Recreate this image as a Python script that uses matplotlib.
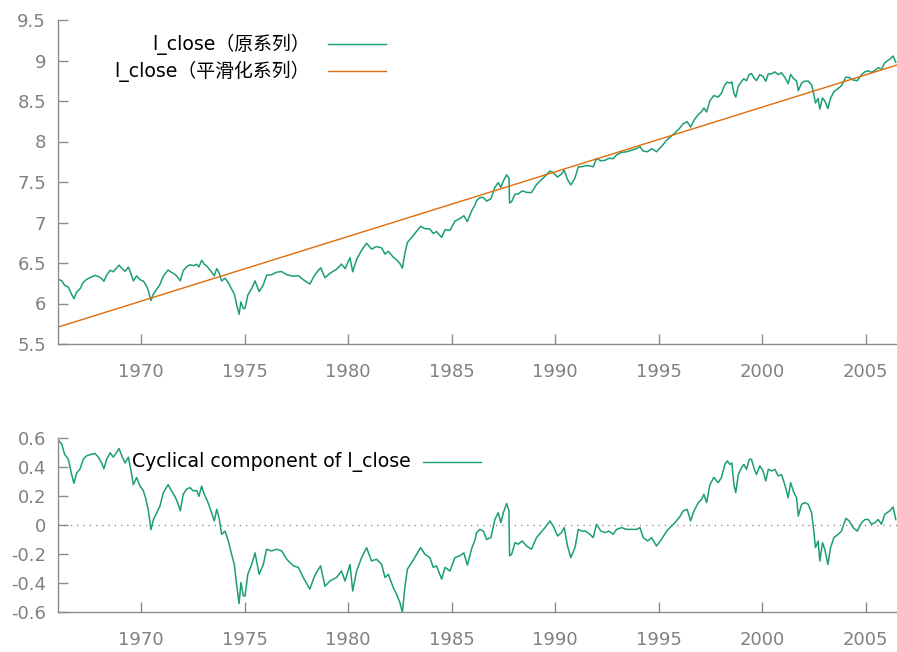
import numpy as np
import matplotlib
matplotlib.use('Agg')
from matplotlib import pyplot as plt
from matplotlib.lines import Line2D

plt.rcParams['font.family'] = ['DejaVu Sans', 'Noto Sans CJK SC']
plt.rcParams['axes.unicode_minus'] = False

# dates (decimal years) and cyclical component
dates = [
    1966.00, 1966.16, 1966.30, 1966.48, 1966.64, 1966.75, 1966.88, 1967.05, 1967.20, 1967.37,
    1967.60, 1967.77, 1967.93, 1968.09, 1968.20, 1968.33, 1968.50, 1968.65, 1968.80, 1968.93,
    1969.06, 1969.22, 1969.38, 1969.51, 1969.62, 1969.78, 1969.94, 1970.10, 1970.23, 1970.35,
    1970.47, 1970.59, 1970.75, 1970.90, 1971.07, 1971.30, 1971.47, 1971.63, 1971.76, 1971.89,
    1972.03, 1972.20, 1972.36, 1972.52, 1972.68, 1972.79, 1972.92, 1973.05, 1973.20, 1973.37,
    1973.53, 1973.65, 1973.76, 1973.89, 1974.05, 1974.21, 1974.37, 1974.50, 1974.61, 1974.73,
    1974.82, 1974.94, 1975.02, 1975.15, 1975.34, 1975.50, 1975.70, 1975.90, 1976.06, 1976.30,
    1976.54, 1976.79, 1977.03, 1977.35, 1977.59, 1977.83, 1978.15, 1978.35, 1978.51, 1978.67,
    1978.88, 1979.12, 1979.44, 1979.68, 1979.85, 1980.09, 1980.22, 1980.41, 1980.65, 1980.89,
    1981.13, 1981.37, 1981.62, 1981.78, 1981.94, 1982.18, 1982.34, 1982.50, 1982.62, 1982.74,
    1982.86, 1983.07, 1983.31, 1983.50, 1983.71, 1983.95, 1984.11, 1984.27, 1984.52, 1984.68,
    1984.92, 1985.16, 1985.40, 1985.59, 1985.76, 1985.97, 1986.13, 1986.21, 1986.37, 1986.53,
    1986.69, 1986.90, 1987.09, 1987.25, 1987.38, 1987.50, 1987.66, 1987.77, 1987.80, 1987.90,
    1988.06, 1988.22, 1988.41, 1988.62, 1988.86, 1989.10, 1989.31, 1989.51, 1989.75, 1989.91,
    1990.12, 1990.31, 1990.44, 1990.60, 1990.76, 1990.96, 1991.12, 1991.28, 1991.47, 1991.68,
    1991.84, 1992.00, 1992.21, 1992.41, 1992.60, 1992.81, 1992.97, 1993.21, 1993.45, 1993.69,
    1993.94, 1994.10, 1994.26, 1994.47, 1994.66, 1994.90, 1995.14, 1995.39, 1995.59, 1995.79,
    1996.03, 1996.19, 1996.38, 1996.55, 1996.71, 1996.92, 1997.08, 1997.19, 1997.32, 1997.48,
    1997.67, 1997.88, 1998.04, 1998.20, 1998.32, 1998.45, 1998.54, 1998.64, 1998.73, 1998.85,
    1999.01, 1999.12, 1999.25, 1999.38, 1999.49, 1999.60, 1999.73, 1999.89, 2000.05, 2000.18,
    2000.30, 2000.46, 2000.62, 2000.78, 2000.94, 2001.10, 2001.26, 2001.38, 2001.54, 2001.67,
    2001.75, 2001.91, 2002.07, 2002.23, 2002.39, 2002.50, 2002.58, 2002.71, 2002.79, 2002.92,
    2003.03, 2003.18, 2003.31, 2003.47, 2003.68, 2003.84, 2004.05, 2004.21, 2004.40, 2004.60,
    2004.81, 2004.97, 2005.13, 2005.29, 2005.45, 2005.61, 2005.77, 2005.93, 2006.17, 2006.33,
    2006.46,
]
cycle = [
    0.586, 0.56, 0.49, 0.455, 0.35, 0.29, 0.36, 0.39, 0.455, 0.48,
    0.49, 0.495, 0.47, 0.43, 0.39, 0.455, 0.50, 0.47, 0.50, 0.53,
    0.48, 0.43, 0.47, 0.375, 0.28, 0.33, 0.27, 0.24, 0.18, 0.10,
    -0.03, 0.04, 0.087, 0.13, 0.225, 0.28, 0.237, 0.20, 0.156, 0.10,
    0.214, 0.25, 0.26, 0.237, 0.24, 0.20, 0.27, 0.214, 0.168, 0.10,
    0.03, 0.11, 0.053, -0.062, -0.04, -0.108, -0.20, -0.27, -0.407, -0.54,
    -0.395, -0.487, -0.487, -0.338, -0.27, -0.19, -0.338, -0.27, -0.165, -0.177,
    -0.165, -0.177, -0.234, -0.28, -0.29, -0.36, -0.44, -0.36, -0.315, -0.28,
    -0.42, -0.384, -0.36, -0.315, -0.384, -0.27, -0.453, -0.315, -0.223, -0.154,
    -0.246, -0.234, -0.27, -0.36, -0.338, -0.43, -0.476, -0.533, -0.60, -0.43,
    -0.303, -0.257, -0.20, -0.154, -0.20, -0.223, -0.29, -0.28, -0.372, -0.29,
    -0.315, -0.223, -0.21, -0.19, -0.275, -0.16, -0.10, -0.05, -0.028, -0.04,
    -0.097, -0.085, 0.04, 0.087, 0.018, 0.087, 0.15, 0.10, -0.21, -0.20,
    -0.12, -0.13, -0.108, -0.143, -0.165, -0.085, -0.05, -0.016, 0.03, -0.005,
    -0.074, -0.05, -0.016, -0.143, -0.223, -0.154, -0.028, -0.04, -0.04, -0.062,
    -0.085, 0.007, -0.04, -0.05, -0.04, -0.062, -0.028, -0.016, -0.028, -0.028,
    -0.028, -0.016, -0.085, -0.108, -0.085, -0.143, -0.097, -0.04, -0.01, 0.018,
    0.06, 0.10, 0.11, 0.03, 0.10, 0.156, 0.18, 0.214, 0.156, 0.28,
    0.33, 0.294, 0.33, 0.42, 0.444, 0.42, 0.43, 0.28, 0.225, 0.35,
    0.398, 0.42, 0.386, 0.455, 0.455, 0.398, 0.35, 0.41, 0.375, 0.306,
    0.386, 0.375, 0.386, 0.34, 0.35, 0.28, 0.19, 0.294, 0.225, 0.19,
    0.064, 0.145, 0.156, 0.145, 0.087, -0.04, -0.154, -0.108, -0.246, -0.12,
    -0.165, -0.27, -0.154, -0.085, -0.062, -0.04, 0.048, 0.03, -0.016, -0.04,
    0.018, 0.04, 0.04, 0.007, 0.018, 0.04, 0.007, 0.076, 0.10, 0.126,
    0.04,
]

# smoothed (HP) trend is a straight line: values at the first and last date
trend_dates = [1966.00, 2006.52]
trend_ends = [5.71, 8.944]

trend = np.interp(dates, trend_dates, trend_ends)
l_close = trend + np.array(cycle)

y1_ticks = [5.5, 6, 6.5, 7, 7.5, 8, 8.5, 9, 9.5]
y1_labels = ['5.5', '6', '6.5', '7', '7.5', '8', '8.5', '9', '9.5']
y2_ticks = [-0.6, -0.4, -0.2, 0, 0.2, 0.4, 0.6]
y2_labels = ['-0.6', '-0.4', '-0.2', '0', '0.2', '0.4', '0.6']
x_ticks = [1970, 1975, 1980, 1985, 1990, 1995, 2000, 2005]

green = '#1b9e77'
orange = '#e06c0c'
grey_txt = '#808080'
grey_ax = '#8c8c8c'

W, H = 897, 652
fig = plt.figure(figsize=(W / 100, H / 100), dpi=100)


def px_axes(left, top, right, bottom):
    return fig.add_axes([left / W, 1 - bottom / H, (right - left) / W, (bottom - top) / H])


def style(ax):
    for s in ['top', 'right']:
        ax.spines[s].set_visible(False)
    for s in ['left', 'bottom']:
        ax.spines[s].set_color(grey_ax)
        ax.spines[s].set_linewidth(1.0)
    ax.tick_params(direction='in', length=7.5, width=1.0, color=grey_ax,
                   labelcolor=grey_txt, labelsize=13)
    ax.tick_params(axis='y', pad=9)
    ax.tick_params(axis='x', pad=13.5)
    ax.set_xlim(1966.0, 2006.52)
    ax.set_xticks(x_ticks)


ax1 = px_axes(58.4, 20, 897, 344)
style(ax1)
ax1.plot(dates, l_close, color=green, lw=1.1)
ax1.plot(trend_dates, trend_ends, color=orange, lw=1.0)
ax1.set_ylim(5.5, 9.5)
ax1.set_yticks(y1_ticks)
ax1.set_yticklabels(y1_labels)

ax2 = px_axes(58.4, 438.3, 897, 612.3)
style(ax2)
ax2.axhline(0, color=grey_txt, lw=0.9, ls=(0, (1, 4)))
ax2.plot(dates, cycle, color=green, lw=1.1)
ax2.set_ylim(-0.6, 0.6)
ax2.set_yticks(y2_ticks)
ax2.set_yticklabels(y2_labels)


# gnuplot-style keys: right-aligned text, line sample on the right
def key(text, x_text, x0, x1, y, color):
    fig.text(x_text / W, 1 - y / H, text, ha='right', va='center', fontsize=13.6, color='black')
    fig.add_artist(Line2D([x0 / W, x1 / W], [1 - y / H, 1 - y / H],
                          transform=fig.transFigure, color=color, lw=1.0))


key('l_close（原系列）', 310, 328, 386, 44, green)
key('l_close（平滑化系列）', 310, 328, 386, 71, orange)
key('Cyclical component of l_close', 411, 423, 481, 462, green)

fig.savefig('out.png', dpi=100)
